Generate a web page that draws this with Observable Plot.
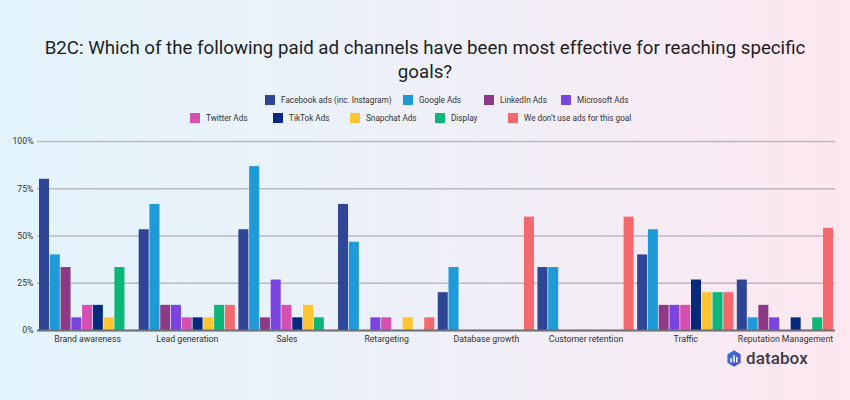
<!DOCTYPE html>
<html>
<head>
<meta charset="utf-8">
<script src="https://cdn.jsdelivr.net/npm/d3@7"></script>
<script src="https://cdn.jsdelivr.net/npm/@observablehq/plot@0.6"></script>
<style>
  html, body { margin: 0; padding: 0; }
  body { width: 850px; height: 400px; overflow: hidden; font-family: Roboto, "Noto Sans", sans-serif; }
  #wrap { position: relative; width: 850px; height: 400px;
    background: linear-gradient(90deg, #e3f4fc 0%, #eef0f8 50%, #fde7f0 100%); }
  #title { position: absolute; left: 0; top: 36px; width: 850px; text-align: center;
    font-size: 18.7px; line-height: 24px; color: #1f1f24; white-space: nowrap; }
  .lg { position: absolute; display: flex; align-items: center; font-size: 8.2px; color: #333; white-space: nowrap; }
  .lg span.sw { width: 10px; height: 10px; margin-right: 6px; display: inline-block; }
  #chart { position: absolute; left: 0; top: 120px; }
  #logo { position: absolute; left: 727px; top: 348px; display: flex; align-items: center; }
  #logo span { font-size: 17px; font-weight: 500; color: #3b3b45; margin-left: 5px; letter-spacing: 0.1px; }
</style>
</head>
<body>
<div id="wrap">
  <div id="title">B2C: Which of the following paid ad channels have been most effective for reaching specific<br>goals?</div>
  <div id="legend"></div>
  <div id="chart"></div>
  <div id="logo">
    <svg width="14" height="17" viewBox="0 0 14 17">
      <defs>
        <linearGradient id="lgGrad" x1="0" y1="0" x2="1" y2="1">
          <stop offset="0" stop-color="#3b7be0"/>
          <stop offset="1" stop-color="#4a43c4"/>
        </linearGradient>
      </defs>
      <path d="M7 0.3 L13.6 4.2 L13.6 12.8 L7 16.7 L0.4 12.8 L0.4 4.2 Z" fill="url(#lgGrad)"/>
      <rect x="3.4" y="8.2" width="1.6" height="4.2" fill="#fff"/>
      <rect x="6.2" y="5.2" width="1.6" height="7.2" fill="#fff"/>
      <rect x="9" y="7" width="1.6" height="5.4" fill="#fff"/>
    </svg>
    <span>databox</span>
  </div>
</div>
<script>
// ---- data ----
const goals = ["Brand awareness", "Lead generation", "Sales", "Retargeting", "Database growth", "Customer retention", "Traffic", "Reputation Management"];
const channels = ["Facebook ads (inc. Instagram)", "Google Ads", "LinkedIn Ads", "Microsoft Ads", "Twitter Ads", "TikTok Ads", "Snapchat Ads", "Display", "We don’t use ads for this goal"];
const colors = ["#2f4596", "#1e9ad6", "#8c3a86", "#7b44e2", "#d84fb2", "#082a7c", "#fec52f", "#0bb676", "#f4696d"];

const facebook  = [80,   53.3, 53.3, 66.7, 20,   33.3, 40,   26.7];
const google    = [40,   66.7, 86.7, 46.7, 33.3, 33.3, 53.3, 6.7];
const linkedin  = [33.3, 13.3, 6.7,  0,    0,    0,    13.3, 13.3];
const microsoft = [6.7,  13.3, 26.7, 6.7,  0,    0,    13.3, 6.7];
const twitter   = [13.3, 6.7,  13.3, 6.7,  0,    0,    13.3, 0];
const tiktok    = [13.3, 6.7,  6.7,  0,    0,    0,    26.7, 6.7];
const snapchat  = [6.7,  6.7,  13.3, 6.7,  0,    0,    20,   0];
const display   = [33.3, 13.3, 6.7,  0,    0,    0,    20,   6.7];
const noAds     = [0,    13.3, 0,    6.7,  60,   60,   20,   54];

const yTicks = [0, 25, 50, 75, 100];
const yTickLabels = ["0%", "25%", "50%", "75%", "100%"];

// ---- table ----
const series = [facebook, google, linkedin, microsoft, twitter, tiktok, snapchat, display, noAds];
const rows = [];
goals.forEach((g, gi) => {
  channels.forEach((c, ci) => {
    rows.push({goal: g, channel: c, value: series[ci][gi]});
  });
});

// ---- legend (layout slots) ----
const legendSlots = [[0, 265], [0, 403], [0, 484], [0, 561], [1, 190], [1, 273], [1, 350], [1, 435], [1, 508]];
const legendRowY = [95, 113];
const legendEl = document.getElementById("legend");
channels.forEach((c, i) => {
  const d = document.createElement("div");
  d.className = "lg";
  d.style.left = legendSlots[i][1] + "px";
  d.style.top = legendRowY[legendSlots[i][0]] + "px";
  d.innerHTML = `<span class="sw" style="background:${colors[i]}"></span><span>${c}</span>`;
  legendEl.appendChild(d);
});

// ---- chart ----
const chart = Plot.plot({
  width: 850,
  height: 240,
  marginTop: 21,
  marginBottom: 30,
  marginLeft: 39,
  marginRight: 17,
  style: {background: "transparent", fontFamily: "Roboto, sans-serif", fontSize: "8.7px", color: "#333"},
  fx: {domain: goals, paddingInner: 0.035, paddingOuter: 0, round: false, label: null, axis: null},
  x: {domain: channels, paddingInner: 0.07, paddingOuter: 0, round: false, axis: null},
  y: {domain: [0, 100], axis: null},
  color: {domain: channels, range: colors},
  marks: [
    Plot.ruleY(yTicks, {stroke: "#b9b9c2", strokeWidth: 1.4, insetLeft: -2, insetRight: -2}),
    Plot.barY(rows.filter(d => d.value > 0), {fx: "goal", x: "channel", y: "value", fill: "channel"}),
    Plot.ruleY([0], {stroke: "#707078", strokeWidth: 2, insetLeft: -2, insetRight: -2}),
    Plot.axisFx({domain: goals, tickSize: 0, tickPadding: 5, fontSize: 8.7, label: null, anchor: "bottom"}),
    Plot.axisY(yTicks, {tickSize: 0, tickPadding: 6, fontSize: 8.7, label: null, anchor: "left",
      tickFormat: (d) => yTickLabels[yTicks.indexOf(d)]})
  ]
});
document.getElementById("chart").appendChild(chart);
</script>
</body>
</html>
